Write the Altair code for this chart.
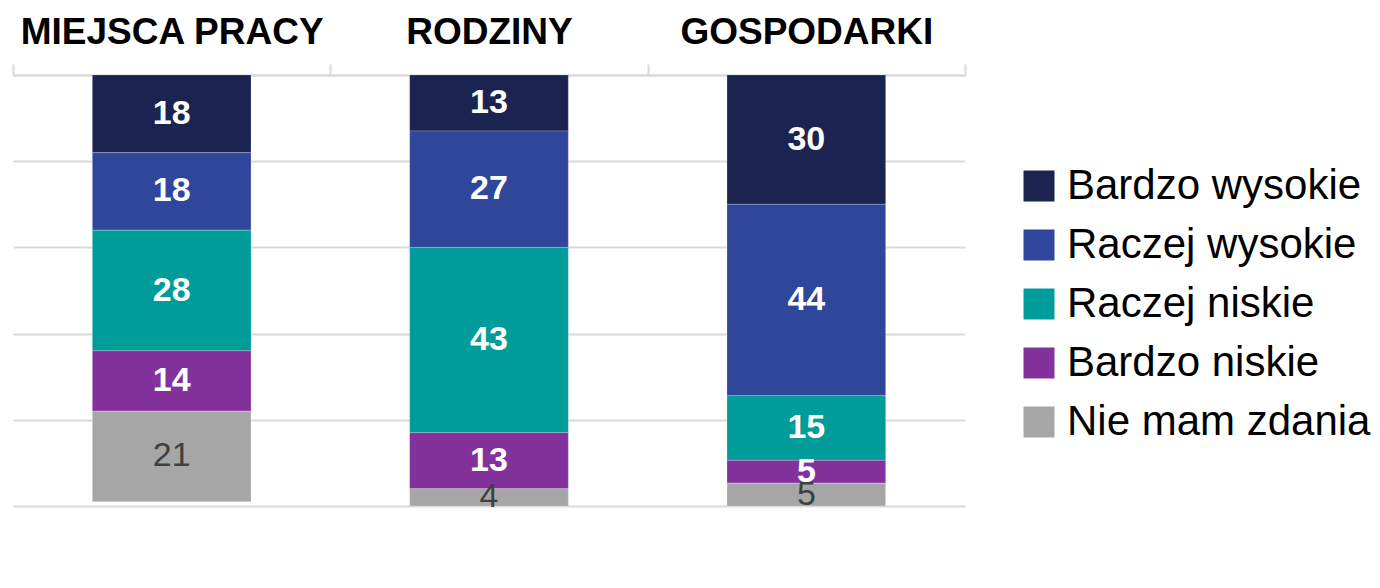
import altair as alt
import pandas as pd

categories = ["MIEJSCA PRACY", "RODZINY", "GOSPODARKI"]
series = ["Bardzo wysokie", "Raczej wysokie", "Raczej niskie", "Bardzo niskie", "Nie mam zdania"]
colors = ["#1b2450", "#30469b", "#009c9a", "#84329b", "#a6a6a6"]

miejsca_pracy = [18, 18, 28, 14, 21]
rodziny = [13, 27, 43, 13, 4]
gospodarki = [30, 44.4, 15, 5.3, 5.3]

values_by_cat = {"MIEJSCA PRACY": miejsca_pracy, "RODZINY": rodziny, "GOSPODARKI": gospodarki}

rows = []
for c in categories:
    for i, s in enumerate(series):
        rows.append({"cat": c, "series": s, "order": i, "value": values_by_cat[c][i]})
df = pd.DataFrame(rows)

FONT = "Liberation Sans"

base = alt.Chart(df).transform_stack(
    stack="value", groupby=["cat"], sort=[alt.SortField("order", "ascending")], as_=["v0", "v1"]
).transform_calculate(mid="(datum.v0 + datum.v1) / 2")

xscale = alt.Scale(paddingInner=0, paddingOuter=0)

xaxis = alt.Axis(
    orient="top", title=None, labelFont=FONT, labelFontSize=37, labelFontWeight="bold",
    labelColor="#000000", labelAngle=0, labelLimit=600, domain=True, domainColor="#d9d9d9",
    domainWidth=2, tickColor="#d9d9d9", tickWidth=2, tickSize=11, tickBand="extent",
    labelPadding=13, grid=False,
)

yaxis = alt.Axis(
    title=None, labels=False, ticks=False, domain=False, grid=True,
    values=[0, 20, 40, 60, 80, 100], gridColor="#d9d9d9", gridWidth=2,
)

yscale = alt.Scale(domain=[0, 100], reverse=True, nice=False, zero=True)

bars = base.mark_bar(
    width=alt.RelativeBandSize(0.5), stroke="#ffffff", strokeWidth=0.6, strokeOpacity=0.35
).encode(
    x=alt.X("cat:N", sort=categories, scale=xscale, axis=xaxis),
    y=alt.Y("v0:Q", scale=yscale, axis=yaxis),
    y2="v1:Q",
    color=alt.Color(
        "series:N",
        sort=series,
        scale=alt.Scale(domain=series, range=colors),
        legend=alt.Legend(
            title=None, orient="none", legendX=1005, legendY=90, labelFont=FONT,
            labelFontSize=42, labelColor="#000000", symbolType="square", symbolSize=961,
            symbolStrokeWidth=0, symbolOpacity=1, rowPadding=17, labelOffset=7, padding=0,
            labelLimit=500,
        ),
    ),
    order=alt.Order("order:Q"),
)

labels_color = base.transform_filter(alt.datum.order < 4).mark_text(
    font=FONT, fontSize=34, fontWeight="bold", color="#ffffff", baseline="middle", align="center"
).encode(
    x=alt.X("cat:N", sort=categories, scale=xscale, axis=xaxis),
    y=alt.Y("mid:Q", scale=yscale, axis=yaxis),
    text=alt.Text("value:Q", format=".0f"),
)

labels_gray = base.transform_filter(alt.datum.order == 4).mark_text(
    font=FONT, fontSize=34, fontWeight="normal", color="#404040", baseline="middle", align="center"
).encode(
    x=alt.X("cat:N", sort=categories, scale=xscale, axis=xaxis),
    y=alt.Y("mid:Q", scale=yscale, axis=yaxis),
    text=alt.Text("value:Q", format=".0f"),
)

chart = alt.layer(bars, labels_color, labels_gray).properties(
    width=952, height=431,
    autosize=alt.AutoSizeParams(type="none"),
    padding={"left": 5, "top": 67, "right": 406, "bottom": 74},
    view=alt.ViewBackground(stroke="transparent", strokeWidth=0, strokeOpacity=0),
).configure_view(
    stroke="transparent", strokeWidth=0, strokeOpacity=0
).configure_axisY(
    domain=False, ticks=False, labels=False
).configure_axisX(
    grid=False
).configure(
    background="#ffffff"
)

chart.save("out.html", embed_options={"renderer": "svg", "actions": False})
